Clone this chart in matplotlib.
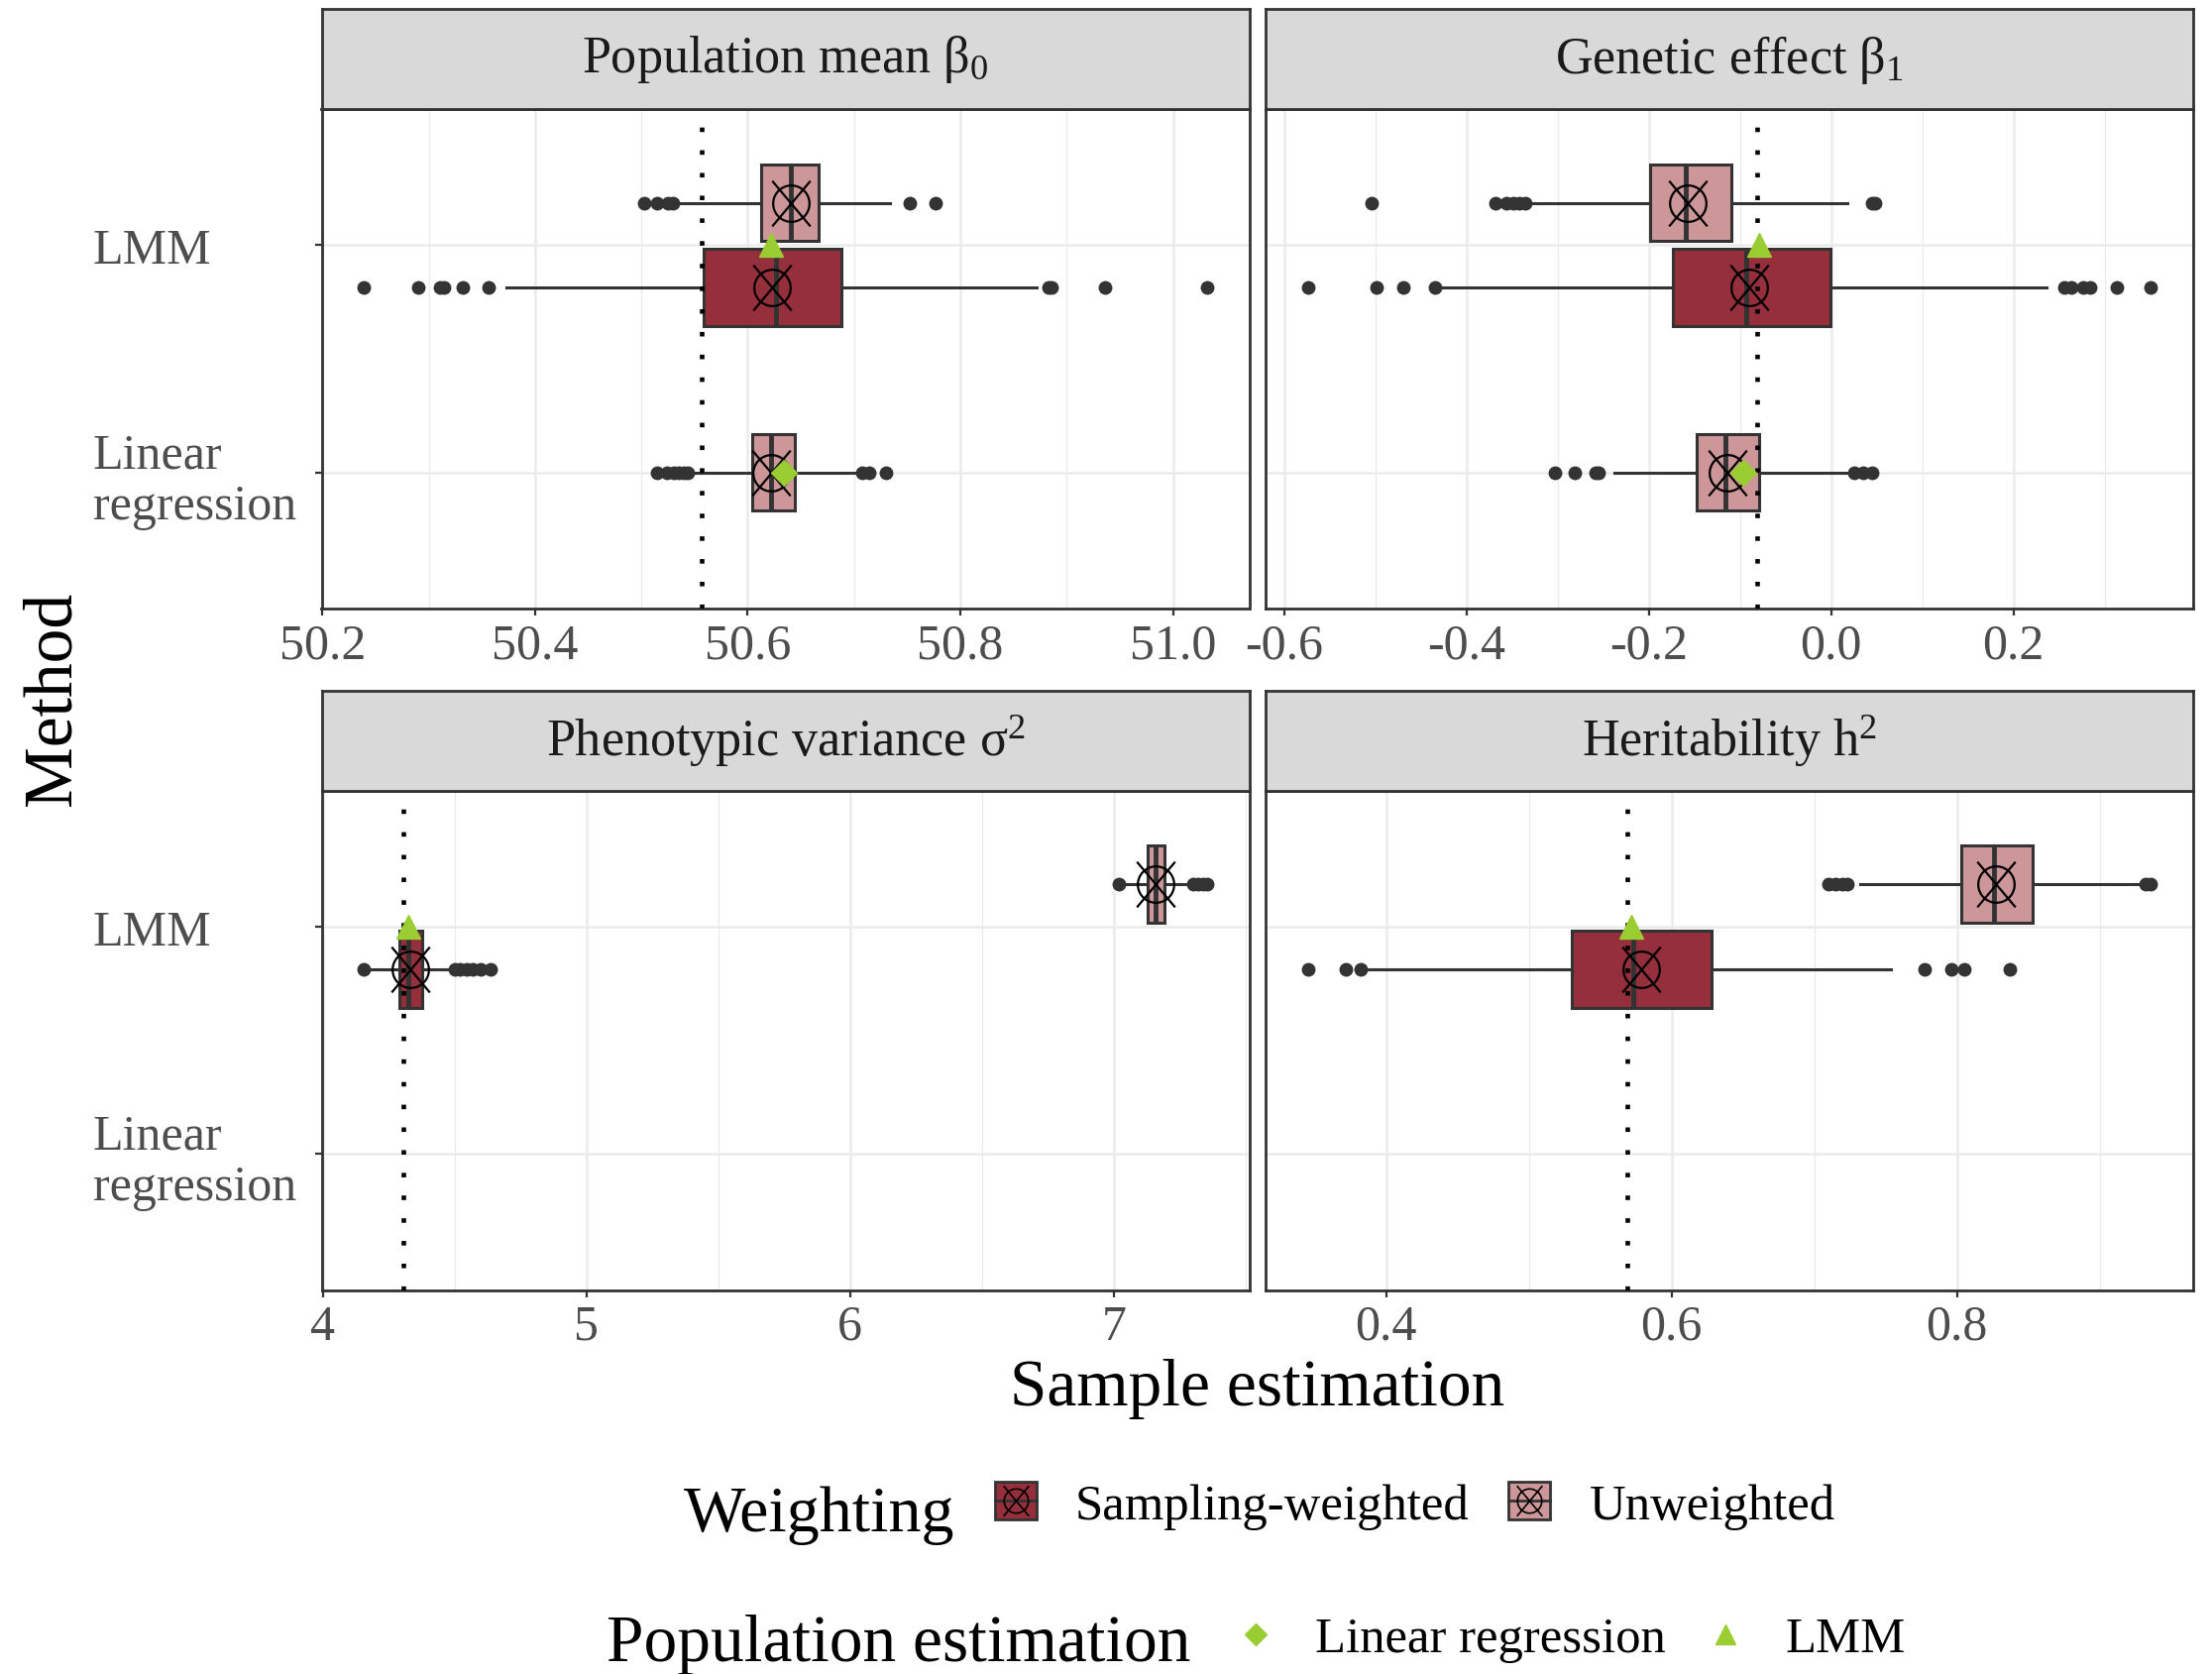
import numpy as np
import matplotlib
matplotlib.use("Agg")
import matplotlib.pyplot as plt
from matplotlib.path import Path
from matplotlib.lines import Line2D
from matplotlib.patches import Patch
from matplotlib.legend_handler import HandlerTuple

plt.rcParams['font.family'] = ['Liberation Serif', 'DejaVu Serif']
plt.rcParams['mathtext.fontset'] = 'custom'
plt.rcParams['mathtext.rm'] = 'Liberation Serif'
plt.rcParams['mathtext.it'] = 'Liberation Serif:italic'
plt.rcParams['axes.unicode_minus'] = False

# ---------------- data ----------------
PANEL_TITLES = ["Population mean β$_0$", "Genetic effect β$_1$",
                "Phenotypic variance σ$^2$", "Heritability h$^2$"]
METHODS = ["LMM", "Linear\nregression"]
WEIGHTING = ["Sampling-weighted", "Unweighted"]
POP_LABELS = ["Linear regression", "LMM"]

TRUE_VALUE = [50.557, -0.081, 4.305, 0.569]
POP_LMM = [50.622, -0.079, 4.324, 0.572]
POP_LR = [50.634, -0.096, None, None]

# LMM, sampling-weighted
W_Q1 = [50.559, -0.174, 4.289, 0.530]
W_MED = [50.627, -0.093, 4.324, 0.573]
W_Q3 = [50.688, -0.001, 4.375, 0.628]
W_LO = [50.373, -0.427, 4.185, 0.388]
W_HI = [50.872, 0.236, 4.482, 0.754]
W_MEAN = [50.623, -0.090, 4.330, 0.579]
W_FLIERS = [[50.239, 50.290, 50.311, 50.314, 50.332, 50.356, 50.883, 50.886, 50.936, 51.032],
            [-0.574, -0.499, -0.469, -0.434, 0.256, 0.264, 0.277, 0.284, 0.314, 0.351],
            [4.155, 4.500, 4.520, 4.545, 4.570, 4.600, 4.636],
            [0.345, 0.372, 0.382, 0.777, 0.796, 0.805, 0.837]]

# LMM, unweighted
U_Q1 = [50.613, -0.199, 7.127, 0.803]
U_MED = [50.641, -0.159, 7.157, 0.826]
U_Q3 = [50.667, -0.109, 7.192, 0.853]
U_LO = [50.537, -0.332, 7.050, 0.732]
U_HI = [50.734, 0.018, 7.275, 0.927]
U_MEAN = [50.641, -0.157, 7.158, 0.827]
U_FLIERS = [[50.503, 50.515, 50.525, 50.530, 50.752, 50.777],
            [-0.504, -0.368, -0.356, -0.349, -0.342, -0.335, 0.045, 0.048],
            [7.019, 7.300, 7.320, 7.340, 7.354],
            [0.710, 0.715, 0.720, 0.723, 0.932, 0.936]]

# Linear regression, unweighted (only first two parameters)
L_Q1 = [50.604, -0.147]
L_MED = [50.622, -0.116]
L_Q3 = [50.644, -0.079]
L_LO = [50.547, -0.238]
L_HI = [50.702, 0.022]
L_MEAN = [50.622, -0.114]
L_FLIERS = [[50.515, 50.524, 50.531, 50.535, 50.540, 50.544, 50.708, 50.714, 50.730],
            [-0.303, -0.281, -0.258, -0.255, 0.025, 0.035, 0.045]]

X_TICKS = [[50.2, 50.4, 50.6, 50.8, 51.0], [-0.6, -0.4, -0.2, 0.0, 0.2],
           [4, 5, 6, 7], [0.4, 0.6, 0.8]]
X_TICK_LABELS = [["50.2", "50.4", "50.6", "50.8", "51.0"],
                 ["-0.6", "-0.4", "-0.2", "0.0", "0.2"],
                 ["4", "5", "6", "7"], ["0.4", "0.6", "0.8"]]

# ---------------- style ----------------
COL_W = "#952F3B"
COL_U = "#CD9699"
COL_EDGE = "#333333"
COL_GREEN = "#9ACD32"
COL_GRID = "#EBEBEB"
COL_STRIP = "#D9D9D9"
COL_TICKTXT = "#4D4D4D"

# circle-with-cross marker
th = np.linspace(0, 2 * np.pi, 61)
verts = list(zip(0.40 * np.cos(th), 0.40 * np.sin(th)))
codes = [Path.MOVETO] + [Path.LINETO] * 60
verts += [(-0.42, -0.5), (0.42, 0.5), (-0.42, 0.5), (0.42, -0.5)]
codes += [Path.MOVETO, Path.LINETO, Path.MOVETO, Path.LINETO]
MEAN_MARKER = Path(verts, codes)

W, H = 2232, 1690
fig = plt.figure(figsize=(W / 100, H / 100), dpi=100)

lefts = [324.5, 1277, 324.5, 1277]
tops = [111, 111, 798.5, 798.5]
pw, ph, sh = 936, 504, 101
Y_POS = [2, 1]
DODGE = 0.1875
BOX_H = 0.34

axes = []
for i in range(4):
    l, t = lefts[i], tops[i]
    ax = fig.add_axes([l / W, 1 - (t + ph) / H, pw / W, ph / H])
    sax = fig.add_axes([l / W, 1 - t / H, pw / W, sh / H])
    sax.set_facecolor(COL_STRIP)
    sax.set_xticks([]); sax.set_yticks([])
    for s in sax.spines.values():
        s.set_color(COL_EDGE); s.set_linewidth(2)
    sax.text(0.5, 0.5, PANEL_TITLES[i], ha='center', va='center', fontsize=37.5,
             color='#1A1A1A', transform=sax.transAxes)
    axes.append(ax)

common = dict(patch_artist=True, showmeans=True, showcaps=False, widths=BOX_H,
              orientation='horizontal',
              boxprops=dict(edgecolor=COL_EDGE, linewidth=2.2),
              medianprops=dict(color=COL_EDGE, linewidth=3.5),
              whiskerprops=dict(color=COL_EDGE, linewidth=2.2),
              flierprops=dict(marker='o', markerfacecolor=COL_EDGE, markeredgecolor=COL_EDGE,
                              markersize=9),
              meanprops=dict(marker=MEAN_MARKER, markerfacecolor='none', markeredgecolor='black',
                             markersize=33, markeredgewidth=1.6))

for i, ax in enumerate(axes):
    stats, pos, cols = [], [], []
    stats.append(dict(med=U_MED[i], q1=U_Q1[i], q3=U_Q3[i], whislo=U_LO[i], whishi=U_HI[i],
                      mean=U_MEAN[i], fliers=np.array(U_FLIERS[i])))
    pos.append(Y_POS[0] + DODGE); cols.append(COL_U)
    stats.append(dict(med=W_MED[i], q1=W_Q1[i], q3=W_Q3[i], whislo=W_LO[i], whishi=W_HI[i],
                      mean=W_MEAN[i], fliers=np.array(W_FLIERS[i])))
    pos.append(Y_POS[0] - DODGE); cols.append(COL_W)
    if i < len(L_MED):
        stats.append(dict(med=L_MED[i], q1=L_Q1[i], q3=L_Q3[i], whislo=L_LO[i], whishi=L_HI[i],
                          mean=L_MEAN[i], fliers=np.array(L_FLIERS[i])))
        pos.append(Y_POS[1]); cols.append(COL_U)
    bp = ax.bxp(stats, positions=pos, **common)
    for p, c in zip(bp['boxes'], cols):
        p.set_facecolor(c)
        p.set_zorder(2)
    for m in bp['medians']:
        m.set_zorder(3)
    for m in bp['means']:
        m.set_zorder(4)

    ax.axvline(TRUE_VALUE[i], color='black', linewidth=3.3, linestyle=(0, (1, 4)),
               dash_capstyle='butt', zorder=5)
    ax.plot([POP_LMM[i]], [Y_POS[0]], marker='^', color=COL_GREEN, markersize=17,
            linestyle='none', zorder=6)
    if POP_LR[i] is not None:
        ax.plot([POP_LR[i]], [Y_POS[1]], marker='D', color=COL_GREEN, markersize=13,
                linestyle='none', zorder=6)

    step = X_TICKS[i][1] - X_TICKS[i][0]
    ax.set_xticks(X_TICKS[i])
    ax.set_xticklabels(X_TICK_LABELS[i])
    ax.set_xticks(np.arange(X_TICKS[i][0] - step / 2, X_TICKS[i][-1] + step, step), minor=True)
    ax.set_yticks(Y_POS)

    # limits with 5% expansion like ggplot (set after ticks)
    vals = list(W_FLIERS[i]) + list(U_FLIERS[i]) + [W_LO[i], W_HI[i], U_LO[i], U_HI[i],
                                                  TRUE_VALUE[i], POP_LMM[i]]
    if i < len(L_MED):
        vals += list(L_FLIERS[i]) + [L_LO[i], L_HI[i], POP_LR[i]]
    lo, hi = min(vals), max(vals)
    pad = 0.05 * (hi - lo)
    ax.set_xlim(lo - pad, hi + pad)
    ax.set_ylim(0.4, 2.6)

    ax.set_axisbelow(True)
    ax.grid(which='major', color=COL_GRID, linewidth=1.8, zorder=0)
    ax.grid(which='minor', axis='x', color=COL_GRID, linewidth=0.9, zorder=0)
    ax.tick_params(axis='x', which='major', length=5, width=1.6, color=COL_EDGE,
                   labelsize=36, labelcolor=COL_TICKTXT, pad=5)
    ax.tick_params(axis='x', which='minor', length=0)
    for s in ax.spines.values():
        s.set_color(COL_EDGE); s.set_linewidth(2)
    if i % 2 == 0:
        ax.set_yticklabels(METHODS)
        ax.tick_params(axis='y', length=5, width=1.6, color=COL_EDGE, labelsize=36,
                       labelcolor=COL_TICKTXT, pad=161)
        for lab in ax.get_yticklabels():
            lab.set_ha('left')
            lab.set_multialignment('left')
            lab.set_linespacing(1.15)
    else:
        ax.tick_params(axis='y', length=0, labelleft=False)

fig.text(1269 / W, 1 - 1402 / H, "Sample estimation", ha='center', va='center',
         fontsize=48.5, color='black')
fig.text(54 / W, 1 - 705 / H, "Method", ha='center', va='center', rotation=90,
         fontsize=50, color='black')

# legends
fig.text(690 / W, 1 - 1545 / H, "Weighting", ha='left', va='baseline', fontsize=47.5)
fig.text(612 / W, 1 - 1676 / H, "Population estimation", ha='left', va='baseline', fontsize=48.5)

mean_leg = Line2D([], [], marker=MEAN_MARKER, markerfacecolor='none', markeredgecolor='black',
                  markersize=22, markeredgewidth=1.2, linestyle='none')
med_leg = Line2D([], [], color=COL_EDGE, linewidth=2)
h1 = [(Patch(facecolor=COL_W, edgecolor=COL_EDGE, linewidth=2), med_leg, mean_leg),
      (Patch(facecolor=COL_U, edgecolor=COL_EDGE, linewidth=2), med_leg, mean_leg)]
leg1 = fig.legend(h1, WEIGHTING, loc='center left', bbox_to_anchor=(1004 / W, 1 - 1520 / H),
                  ncol=2, frameon=False, fontsize=36.5, borderpad=0, borderaxespad=0,
                  handlelength=0.83, handleheight=0.75, handletextpad=0.77,
                  columnspacing=0.78, handler_map={tuple: HandlerTuple(ndivide=1)})
h2 = [Line2D([], [], marker='D', color=COL_GREEN, markersize=11, linestyle='none'),
      Line2D([], [], marker='^', color=COL_GREEN, markersize=15, linestyle='none')]
leg2 = fig.legend(h2, POP_LABELS, loc='center left', bbox_to_anchor=(1246 / W, 1 - 1655 / H),
                  ncol=2, frameon=False, fontsize=36.5, borderpad=0, borderaxespad=0,
                  handlelength=0.83, handletextpad=0.77, columnspacing=0.78)

fig.savefig("out.png", dpi=100)
